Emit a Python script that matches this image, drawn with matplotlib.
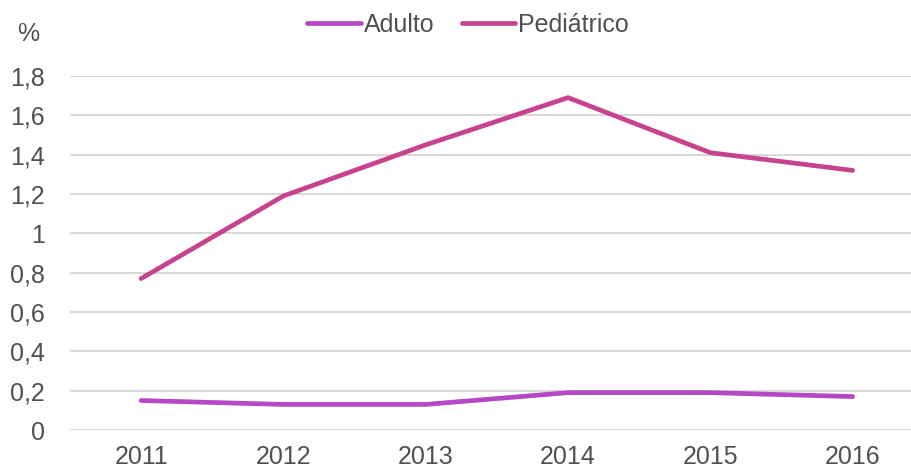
import matplotlib
matplotlib.use("Agg")
import matplotlib.pyplot as plt
from matplotlib.ticker import FuncFormatter

# dados
anos = ["2011", "2012", "2013", "2014", "2015", "2016"]
adulto = [0.15, 0.13, 0.13, 0.19, 0.19, 0.17]
pediatrico = [0.77, 1.19, 1.45, 1.69, 1.41, 1.32]
y_ticks = [0, 0.2, 0.4, 0.6, 0.8, 1.0, 1.2, 1.4, 1.6, 1.8]

plt.rcParams['font.family'] = ['Liberation Sans', 'DejaVu Sans']
cor_texto = "#505050"

fig = plt.figure(figsize=(9.11, 4.70), dpi=100)
ax = fig.add_axes([70 / 911, 40 / 470, 841 / 911, 354 / 470])

x = range(len(anos))
ax.plot(x, adulto, color="#B548C4", lw=3.4, solid_capstyle="round", label="Adulto")
ax.plot(x, pediatrico, color="#C8438F", lw=3.4, solid_capstyle="round", label="Pediátrico")

ax.set_xlim(-0.5, 5.41)
ax.set_ylim(0, 1.8)
ax.set_yticks(y_ticks)
ax.yaxis.set_major_formatter(FuncFormatter(lambda v, p: ("%g" % round(v, 1)).replace(".", ",")))
ax.set_xticks(list(x))
ax.set_xticklabels(anos)

ax.grid(axis="y", color="#D9D9D9", lw=1.5)
ax.set_axisbelow(True)
for s in ax.spines.values():
    s.set_visible(False)
ax.tick_params(length=0, labelsize=18, colors=cor_texto)
ax.tick_params(axis="x", pad=11)
ax.tick_params(axis="y", pad=18)

fig.text(28 / 911, 1 - 34 / 470, "%", ha="center", va="center", fontsize=18, color=cor_texto)

leg = ax.legend(loc="center", bbox_to_anchor=(468 / 911, 1 - 25 / 470), bbox_transform=fig.transFigure,
                ncol=2, frameon=False, fontsize=18, handlelength=2.15, handletextpad=0.1,
                columnspacing=1.1, borderpad=0)
for t in leg.get_texts():
    t.set_color(cor_texto)

fig.savefig("out.png", dpi=100)
